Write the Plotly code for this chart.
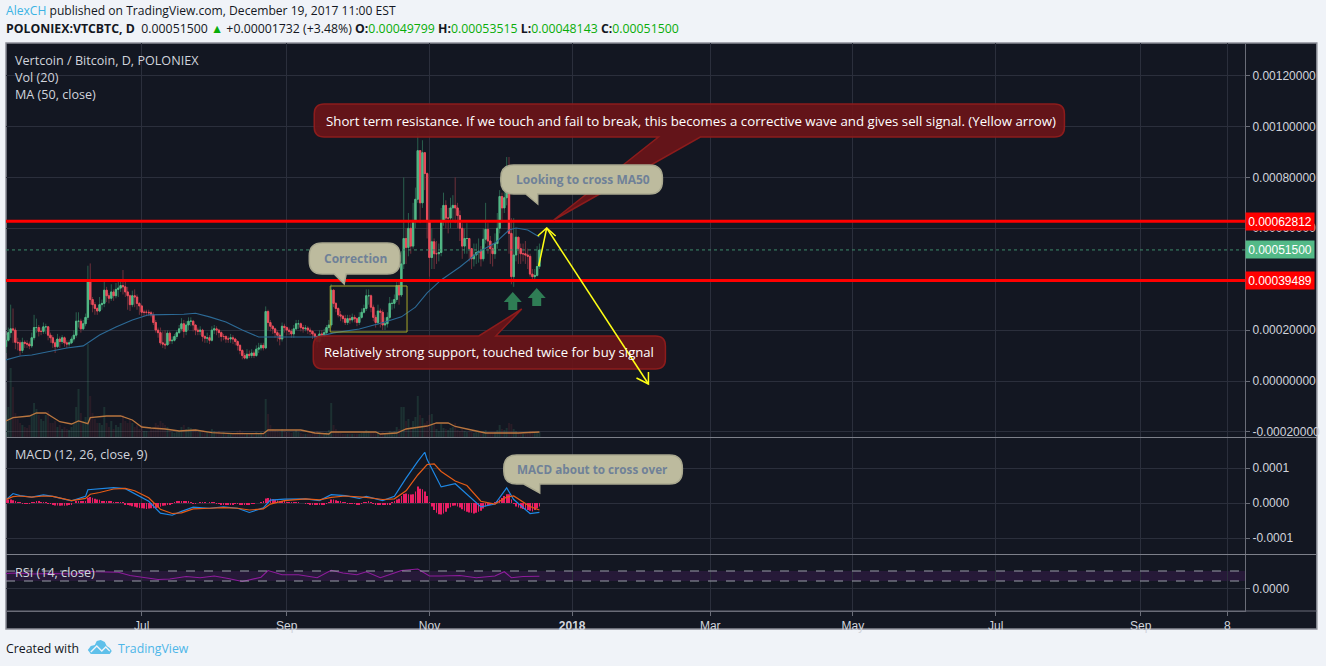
import pandas as pd
import plotly.graph_objects as go

W_L, W_R, P_T, P_B = 6, 1248, 43, 611

START = "2017-05-04"
UNIT = 1e-5
# Daily candles, price in units of 0.00001 BTC
closes = [
16,19,20.5,20,15.2,15,12,15.2,14.8,14.5,
13.8,17,21,21,19.5,19.5,21.3,21.3,18,17,
15,13.5,16.5,15.5,17,15,14.5,15,16.5,18,
23.5,23.5,20.5,22.5,25,39.8,32,30,28.5,27.5,
30,30.5,35.7,33.5,32.5,35,33.5,36,36.5,37.5,
37,35,33.5,30,33.5,33,30.5,29.5,27,27,
27,26.8,26,23,20,19,15,14.5,14.2,18.8,
15.8,16,17.5,19,20.5,22.5,19.5,22,23.5,23.5,
22,20,19.5,20,17.5,16.8,17,16,20,20.5,
20,19,17.5,17.5,16.5,16.5,17,16.5,15.5,14,
12,10,9,10.5,10,11,10,12.5,13,14,
13,27.3,23,21.5,20.5,19,18,16.5,21.5,21,
20,19.5,18.5,20.5,22.5,22.5,21,20.5,20.8,20,
19.5,18.5,17.5,15.5,18.5,17.5,19,21,22,35.7,
30.5,28.5,26,25.5,24.5,23,24.5,24,25,24.5,
23,25,27,28.5,33.5,33.5,29,25,23,27.5,
27,22,22.5,25,30.5,30.5,32,37.5,33.8,46,
56,52.5,60,53,63,71.4,90.5,70,89.7,81.5,
63,48.5,54.7,50,50,50.5,63,69,64,64,
68,69,68,65,60,53,56,56,52,48,
49.5,50.5,51,48,55.7,59.6,55,52,50,54,
60,72.5,68,72,81,58,41,49.5,56.5,52,
50,50,49.5,49,42,41,41.5,45,51.5]
first_open = 13.5
# The market trades round the clock: each candle opens at the previous close
opens = [first_open] + closes[:-1]
highs = [
18,21,30,28.5,21,17,16,17,16,16,
15.5,19,26,24.5,22,21,23,22.5,21,19,
18,16,18.5,17.5,18,17.5,16,16,17.5,20,
27,27,24.5,24,26.5,45.3,46.2,33,31,29,
33,32,39.5,37,34.5,38,36,38.5,39,39.5,
43.6,39.5,37,34,35.5,36,34,31,30,28,
28,28,27.5,27,24,21,21,19.5,20,20,
19.5,17.5,18.5,20,22,24.7,24,23.5,25,25,
24,22,21,21.5,20.5,18,19,18,21.5,22,
21.5,20.5,19.5,18.5,18,17.5,18.5,18,17,16,
14.5,12.5,11,12.5,12,12.5,12,14,15,15,
15,29.3,28,24,22,21,20,19,23,22.5,
21.5,21,20.5,22,24,24,23,22,22,21.5,
21,20,19,18,20,20,20.5,22,24,38,
36,31,29,27.5,26,26,26,26,26.5,26,
25,27,28.5,30,36,36,34,30,26,30,
28.5,28,25,27,33,32,34,40,39,51,
80,60,66,62,70,76,97.5,85,94.6,90,
82,62,60,56,55,54,68,74,71,68,
72,73,80,70,67,62,60,62,56,52,
54,54,56,53,60,70,62,57,54,58,
66,75,74,76,88,88,64,64,60,56,
54,54,55,52,50,44,44,53,54]
lows = [
11,15.5,17,15,12.5,12,10,11,13,13,
12.5,13,16,19,17.5,18,18.5,18.5,16,15,
13,11,13,13,14.5,13.5,13,13.5,14.5,15.5,
17,21,19,20,21.5,24,30,27,26,26,
27,28,29,31,30.5,31.5,31.5,32.5,33,35,
34,33,28,27.5,29,29,28,26,25.5,25.5,
25.5,25.5,25,22,19,17,14,13,12.5,14,
14.5,14.5,15.5,16.5,18.5,19.5,17,18,20,21.5,
19.5,18,18,18,15.5,15,15,14.5,15.5,18.5,
18,17,15.5,16,15,15,15,14.5,14,12,
10.5,8.5,8.5,8.5,9,9,9,9.5,11,12,
12,12.5,20,19.5,18.5,17,15.5,14,15.5,19,
18,18,17,17,20,20.5,19.5,19,19.5,18.5,
18,16.5,15,13,15,15.5,16.5,18,20,21,
29,27,25,23.5,23,22,22,22.5,23,23,
21.5,22,24.5,26.5,27.5,30,27,23.5,21,22,
21,20,20,21,24,28,28.5,31,30,33,
44,46,49,50,52,60,70,62,68,75,
56,41,44,44,46,47,49,61,60,58,
60,63,62,60,55,48,50,50,47,44,
45,46,46.5,45,47,54,50,46,45,48,
52,58,62,66,69,50,38,37,47,46,
46,47,46,44,41,39.5,39.5,41,44]
volumes = [
22,30,69,50,24,18,14,12,10,9,
12,22,34,28,22,18,16,22,26,14,
14,16,10,12,8,10,8,7,10,14,
30,48,24,16,20,93,41,24,18,14,
14,12,30,14,10,16,8,12,10,14,
22,16,14,18,14,10,12,8,12,6,
6,5,8,10,14,12,16,14,12,10,
6,5,4,5,6,10,12,8,10,9,
8,7,5,5,7,6,5,4,8,6,
5,6,4,5,4,3,3,4,4,6,
7,5,4,4,3,4,3,5,4,5,
4,38,23,12,8,7,6,5,8,6,
5,5,4,5,7,5,4,3,3,3,
3,4,5,6,5,4,4,5,7,34,
12,8,5,4,3,3,3,3,3,3,
3,3,4,5,7,6,5,5,4,5,
4,5,3,4,6,5,6,10,8,30,
30,16,18,10,16,20,41,22,19,14,
16,22,23,14,8,6,13,9,8,7,
9,10,14,7,6,8,6,5,5,5,
4,5,5,4,6,7,5,4,4,5,
7,12,8,7,9,14,13,8,6,4,
4,3,3,3,6,6,4,5,5]
macd_hist = [
.1,.1,.1,.08,.05,.02,.01,-.02,-.02,-.02,
-.01,.01,.02,.03,.03,.02,.02,.01,-.01,-.02,
-.05,-.07,-.07,-.08,-.07,-.08,-.07,-.05,-.03,0,
.03,.04,.05,.06,.06,.15,.17,.15,.12,.1,
.09,.06,.06,.05,.04,.03,.02,.02,.02,.01,
.01,-.03,-.05,-.07,-.09,-.11,-.13,-.14,-.15,-.16,
-.17,-.16,-.15,-.15,-.14,-.13,-.11,-.08,-.07,-.06,
-.04,-.02,.01,.03,.04,.05,.05,.04,.03,.02,
-.01,-.01,0,.01,.01,.01,0,.01,.01,.01,
-.01,-.02,-.03,-.03,-.04,-.05,-.03,-.03,-.02,-.02,
-.03,-.04,-.04,-.04,-.03,-.02,-.01,0,0,.01,
.06,.13,.14,.13,.11,.09,.07,.05,.04,.03,
.02,.02,.01,.01,.01,.01,0,0,-.01,-.01,
-.03,-.04,-.05,-.05,-.05,-.05,-.03,-.01,.02,.1,
.1,.08,.06,.03,.02,.01,-.01,-.02,-.02,-.02,
-.03,-.03,-.01,.01,.02,.03,.01,-.02,-.03,-.03,
-.05,-.06,-.06,-.05,-.03,.02,.05,.1,.12,.2,
.26,.27,.25,.24,.25,.33,.47,.41,.39,.33,
.2,.02,-.1,-.2,-.28,-.32,-.33,-.3,-.25,-.15,
-.12,-.08,-.07,-.1,-.13,-.18,-.22,-.25,-.27,-.28,
-.3,-.28,-.25,-.22,-.16,-.1,-.06,-.03,-.01,.01,
.03,.1,.14,.2,.25,.25,.1,-.02,-.1,-.13,
-.15,-.17,-.18,-.2,-.22,-.24,-.2,-.15,-.1]

# Indicator lines read at sampled day numbers
ma_days = [0,6,11,19,26,33,40,47,54,61,69,76,81,87,94,101,108,116,125,133,140,151,162,169,175,180,186,194,202,209,215,218,223,228]
ma_vals = [8.3,9.8,10.2,11.8,13,13.8,18.1,21.2,24,26,26,26.2,26.6,25.2,23.2,20,17.3,17.3,17.3,17.3,18.9,20.4,23.2,25.2,29,34.6,39.7,44.8,50.7,54.2,59.3,60.1,59.3,56.6]
volma_days = [0,3,10,13,17,23,28,31,35,36,43,49,54,58,62,68,74,81,88,97,110,112,126,132,138,139,158,160,167,171,180,184,189,192,199,205,219,228]
volma_vals = [16,19.3,21,24,24,15.3,13,16,13.3,19.3,21,21,17,10,9,8,6,7,4.3,3.3,3.3,7,7,4,3,5,5,3,4,8,11,14,14,10.5,7,4,4,5]
macd_days = [0,3,6,11,16,20,28,34,35,40,46,51,55,61,66,71,75,80,87,93,99,104,110,113,119,128,134,139,145,151,154,161,166,171,176,179,180,186,192,197,203,209,214,217,224,228]
macd_vals = [.095,.27,.21,.17,.23,.19,.06,.19,.38,.41,.44,.41,.27,.05,-.29,-.35,-.24,-.12,-.15,-.11,-.15,-.27,-.14,.08,.11,.12,.07,.24,.21,.13,.19,.07,.19,.71,1.19,1.45,1.24,.46,.55,.24,-.11,-.03,.43,.1,-.3,-.27]
signal_days = [0,3,6,11,16,20,28,34,36,40,46,51,55,61,66,71,75,80,87,93,99,104,110,113,119,128,134,139,145,151,154,161,166,171,176,180,183,186,192,197,203,209,214,217,224,228]
signal_vals = [.1,.18,.2,.17,.2,.19,.07,.13,.25,.3,.4,.42,.35,.15,-.18,-.3,-.28,-.17,-.15,-.13,-.15,-.2,-.17,-.03,.07,.12,.09,.16,.2,.17,.16,.1,.12,.35,.8,1.1,1.12,.9,.63,.5,.05,-.03,.17,.2,-.1,-.2]
rsi_days = [0,5,11,18,30,35,38,48,53,59,65,70,77,83,89,95,101,109,112,118,125,133,139,144,150,154,160,166,169,176,181,186,194,201,209,213,216,221,228]
rsi_vals = [60,62,58,60,58,70,67,65,52,45,36,38,48,43,50,40,28,45,72,55,55,43,73,62,55,67,43,62,72,78,50,50,52,43,50,67,43,48,49]

support = 0.00039489
resistance = 0.00062812
last_price = 0.00051500
price_ticks = [-0.0002,0,0.0002,0.0004,0.0006,0.0008,0.0010,0.0012]
price_tick_text = ["-0.00020000","0.00000000","0.00020000","","0.00060000","0.00080000","0.00100000","0.00120000"]
time_tick_dates = ["2017-07-01","2017-09-01","2017-11-01","2018-01-01","2018-03-01","2018-05-01","2018-07-01","2018-09-01","2018-10-08"]
time_tick_text = ["Jul","Sep","Nov","<b>2018</b>","Mar","May","Jul","Sep","8"]
macd_ticks = [-1,0,1]

# ---------- derived
dates = pd.date_range(START, periods=len(closes), freq="D")
o = [v*UNIT for v in opens]; c = [v*UNIT for v in closes]
h = [v*UNIT for v in highs]; l = [v*UNIT for v in lows]
body_hi = [max(a,b) for a,b in zip(o,c)]
body_lo = [min(a,b) for a,b in zip(o,c)]
def at(days): return [dates[0]+pd.Timedelta(days=d) for d in days]

UP, DOWN = "#53b987", "#eb4d5c"
UP_W, DOWN_W = "#2a5f4d", "#6f303b"
GRID = "#2b2f3c"; TXT = "#d1d4dc"; BG = "#131722"; PAGE = "#f0f3f8"

def X(x): return (x-W_L)/(W_R-W_L)
def Y(y): return (P_B-y)/(P_B-P_T)

fig = go.Figure()
day_ms = 86400000
vol_up = [v if cc>=oo else None for v,cc,oo in zip(volumes,closes,opens)]
vol_dn = [v if cc<oo else None for v,cc,oo in zip(volumes,closes,opens)]
fig.add_trace(go.Bar(x=dates,y=vol_up,marker=dict(color="rgba(83,185,135,.16)",line_width=0),width=day_ms*.85,xaxis="x",yaxis="y"))
fig.add_trace(go.Bar(x=dates,y=vol_dn,marker=dict(color="rgba(235,77,92,.1)",line_width=0),width=day_ms*.85,xaxis="x",yaxis="y"))
fig.add_trace(go.Scatter(x=at(volma_days),y=volma_vals,mode="lines",line=dict(color="#b9763f",width=1.3),xaxis="x",yaxis="y"))
# wicks
fig.add_trace(go.Candlestick(x=dates,open=o,high=h,low=l,close=c,xaxis="x",yaxis="y2",whiskerwidth=0,
    increasing=dict(line=dict(color=UP_W,width=1),fillcolor=UP_W),
    decreasing=dict(line=dict(color=DOWN_W,width=1),fillcolor=DOWN_W)))
# bodies
fig.add_trace(go.Candlestick(x=dates,open=o,high=body_hi,low=body_lo,close=c,xaxis="x",yaxis="y2",whiskerwidth=0,
    increasing=dict(line=dict(color=UP,width=1),fillcolor=UP),
    decreasing=dict(line=dict(color=DOWN,width=1),fillcolor=DOWN)))
fig.add_trace(go.Scatter(x=at(ma_days),y=[v*UNIT for v in ma_vals],mode="lines",line=dict(color="#2c6a96",width=1.1),xaxis="x",yaxis="y2"))
# MACD
fig.add_trace(go.Bar(x=dates,y=[v*1e-4 for v in macd_hist],marker=dict(color="#e91e63",line_width=0),width=day_ms*.3,xaxis="x2",yaxis="y3"))
fig.add_trace(go.Scatter(x=at(macd_days),y=[v*1e-4 for v in macd_vals],mode="lines",line=dict(color="#1e88e5",width=1.2),xaxis="x2",yaxis="y3"))
fig.add_trace(go.Scatter(x=at(signal_days),y=[v*1e-4 for v in signal_vals],mode="lines",line=dict(color="#e65c16",width=1.2),xaxis="x2",yaxis="y3"))
# RSI
fig.add_trace(go.Scatter(x=at(rsi_days),y=rsi_vals,mode="lines",line=dict(color="#8e1c9c",width=1.1),xaxis="x3",yaxis="y4"))

x_range = ["2017-05-04","2018-10-15 14:00"]
xcommon = dict(type="date",range=x_range,showgrid=True,gridcolor=GRID,gridwidth=1,tickmode="array",
               tickvals=time_tick_dates,ticktext=time_tick_text,zeroline=False,rangeslider=dict(visible=False))
ycommon = dict(side="right",showgrid=True,gridcolor=GRID,zeroline=False,ticks="outside",ticklen=4,tickcolor="#6a6d78",
               showline=True,linecolor="#6a6d78",tickfont=dict(family="Liberation Sans",size=12,color=TXT))
main_dom = [Y(437),1]
macd_dom = [Y(554),Y(438)]
rsi_dom = [0,Y(555)]
shapes=[]; anns=[]

def txt(x,y,s,color=TXT,size=12.6,fam="Open Sans",xa="left",**kw):
    dx = -2 if xa=="left" else 0
    anns.append(dict(xref="paper",yref="paper",x=X(x+dx),y=Y(y),text=s,showarrow=False,xanchor=xa,yanchor="middle",
                     font=dict(family=fam,size=size,color=color),align="left",**kw))
def path(pts,fill,line=None,width=0,close=True,layer="above"):
    d="M"+" L".join(f"{X(a):.5f},{Y(b):.5f}" for a,b in pts)+(" Z" if close else "")
    shapes.append(dict(type="path",xref="paper",yref="paper",path=d,fillcolor=fill,line=dict(color=line or fill,width=width),layer=layer))
def callout(x0,y0,x1,y1,tail,fill,line,r=10,top=False):
    (a,b,tip)=tail
    P=lambda px,py:f"{X(px):.5f},{Y(py):.5f}"
    top_edge = f"L{P(a,y0)} L{P(*tip)} L{P(b,y0)} " if top else ""
    bot_edge = "" if top else f"L{P(b,y1)} L{P(*tip)} L{P(a,y1)} "
    d=(f"M{P(x0+r,y0)} {top_edge}L{P(x1-r,y0)} Q{P(x1,y0)} {P(x1,y0+r)} L{P(x1,y1-r)} Q{P(x1,y1)} {P(x1-r,y1)} "
       f"{bot_edge}L{P(x0+r,y1)} Q{P(x0,y1)} {P(x0,y1-r)} L{P(x0,y0+r)} Q{P(x0,y0)} {P(x0+r,y0)} Z")
    shapes.append(dict(type="path",xref="paper",yref="paper",path=d,fillcolor=fill,line=dict(color=line,width=1.5)))

# frame & separators
shapes.append(dict(type="rect",xref="paper",yref="paper",x0=0,x1=X(1320),y0=Y(629),y1=1,fillcolor=BG,line=dict(color="#8a8d96",width=1.5),layer="below"))
for yy in (437.5,554.5):
    shapes.append(dict(type="line",xref="paper",yref="paper",x0=0,x1=X(1320),y0=Y(yy),y1=Y(yy),line=dict(color="#7d808a",width=1)))
shapes.append(dict(type="line",xref="paper",yref="paper",x0=0,x1=X(1320),y0=0,y1=0,line=dict(color="#6a6d78",width=1)))
# price lines
for val in (resistance,support):
    shapes.append(dict(type="line",xref="paper",yref="y2",x0=0,x1=1,y0=val,y1=val,line=dict(color="#ff0000",width=3)))
shapes.append(dict(type="line",xref="paper",yref="y2",x0=0,x1=1,y0=last_price,y1=last_price,line=dict(color="#3d8b6a",width=1,dash="dot")))
# RSI band
shapes.append(dict(type="rect",xref="paper",yref="y4",x0=0,x1=1,y0=30,y1=70,fillcolor="rgba(128,40,160,.18)",line_width=0,layer="below"))
for val in (30,70):
    shapes.append(dict(type="line",xref="paper",yref="y4",x0=0,x1=1,y0=val,y1=val,line=dict(color="#9a9da8",width=1,dash="dash")))
# correction box
shapes.append(dict(type="rect",xref="paper",yref="paper",x0=X(331),x1=X(408),y0=Y(332),y1=Y(286),line=dict(color="#a8a82a",width=1),fillcolor="rgba(0,0,0,0)"))
# callouts
RED_F,RED_L="rgba(105,20,25,.93)","#8c1c1c"
GRY_F,GRY_L="#bdbb9e","#a9a88f"
callout(315,104,1067,137,(660,702,(555,220)),RED_F,RED_L)
callout(314,336,667,369,(480,497,(523,309)),RED_F,RED_L,top=True)
callout(310,243,401,274,(335,347,(345,284)),GRY_F,GRY_L,r=13)
callout(502,165,664,194,(527,539,(539,204)),GRY_F,GRY_L,r=13)
callout(505,455,684,484,(525,541,(541,493)),GRY_F,GRY_L,r=13)
# green arrows
def up_arrow(cx,top,col="#2f7d55"):
    path([(cx,top),(cx+9,top+10),(cx+4.5,top+10),(cx+4.5,top+18),(cx-4.5,top+18),(cx-4.5,top+10),(cx-9,top+10)],col)
up_arrow(514,292); up_arrow(538,288)
# yellow arrows
YEL="#ffff14"
path([(540,266),(548,228)],YEL,YEL,1.5,False)
path([(539,236),(548,228),(557,236)],"rgba(0,0,0,0)",YEL,1.5,False)
path([(548,228),(650,384)],YEL,YEL,1.5,False)
path([(650,372),(650,384),(638,378)],"rgba(0,0,0,0)",YEL,1.5,False)
# logo
path([(88,650),(91,646),(95,645),(97,641),(101,640),(105,642),(107,646),(110,648),(112,651),(110,654),(91,654)],"#5fc0ea")
path([(91,652),(97,646),(102,651),(106,647),(110,651)],"rgba(0,0,0,0)",PAGE,1.4,False)

CALL="Open Sans"
txt(693,121,"Short term resistance. If we touch and fail to break, this becomes a corrective wave and gives sell signal. (Yellow arrow)","#ffffff",13.25,CALL,"center")
txt(490,352,"Relatively strong support, touched twice for buy signal","#ffffff",13.1,CALL,"center")
txt(356,258,"<b>Correction</b>","#6f8198",12,CALL,"center")
txt(584,180,"<b>Looking to cross MA50</b>","#6f8198",12,CALL,"center")
txt(594,469,"<b>MACD about to cross over</b>","#6f8198",11.7,CALL,"center")

txt(15,60,"Vertcoin / Bitcoin, D, POLONIEX")
txt(15,77,"Vol (20)")
txt(15,94,"MA (50, close)")
txt(15,455,"MACD (12, 26, close, 9)")
txt(15,572,"RSI (14, close)")
G='<span style="color:#09ad09">%s</span>'
txt(6,10,'<span style="color:#3bb3e4">AlexCH</span> published on TradingView.com, December 19, 2017 11:00 EST',"#131722",12.1)
txt(6,29,'<b>POLONIEX:VTCBTC, D</b>  0.00051500 '+G%"▲"+' +0.00001732 (+3.48%) <b>O:</b>'+G%"0.00049799"+' <b>H:</b>'+G%"0.00053515"+' <b>L:</b>'+G%"0.00048143"+' <b>C:</b>'+G%"0.00051500","#131722",12.3)
txt(6,648,"Created with","#131722",12.3)
txt(118,648,"TradingView","#4db6e8",12.3)

def tag(val,axis,color,s):
    anns.append(dict(xref="paper",yref=axis,x=X(1248.5),y=val,text=s,showarrow=False,xanchor="left",yanchor="middle",
        width=68,height=17,bgcolor=color,font=dict(family="Liberation Sans",size=12,color="#ffffff"),align="center",borderpad=0))
tag(resistance,"y2","#ff0000",f"{resistance:.8f}")
tag(last_price,"y2",UP,f"{last_price:.8f}")
tag(support,"y2","#ff0000",f"{support:.8f}")

fig.update_layout(
    width=1326,height=666,autosize=False,showlegend=False,hovermode=False,
    margin=dict(l=W_L,r=1326-W_R,t=P_T,b=666-P_B),
    paper_bgcolor=PAGE,plot_bgcolor=BG,barmode="overlay",boxmode="overlay",boxgap=.2,
    xaxis=dict(**xcommon,anchor="y",showticklabels=False,ticks=""),
    xaxis2=dict(**xcommon,anchor="y3",showticklabels=False,ticks="",matches="x"),
    xaxis3=dict(**xcommon,anchor="y4",matches="x",ticks="outside",ticklen=4,tickcolor="#6a6d78",showline=True,linecolor="#6a6d78",
                tickfont=dict(family="Liberation Sans",size=12,color=TXT)),
    yaxis=dict(domain=main_dom,range=[0,394],visible=False,anchor="x"),
    yaxis2=dict(**ycommon,domain=main_dom,overlaying="y",anchor="x",range=[-22e-5,132.8e-5],
                tickmode="array",tickvals=price_ticks,ticktext=price_tick_text),
    yaxis3=dict(**ycommon,domain=macd_dom,anchor="x2",range=[-1.457e-4,1.857e-4],
                tickmode="array",tickvals=[t*1e-4 for t in macd_ticks],ticktext=[f"{t*1e-4:.4f}" for t in macd_ticks]),
    yaxis4=dict(**ycommon,domain=rsi_dom,anchor="x3",range=[-90,134],tickmode="array",tickvals=[0],ticktext=["0.0000"]),
    shapes=shapes,annotations=anns)
fig.write_html("out.html",config=dict(displayModeBar=False),
               post_script="document.body.style.margin='0';document.documentElement.style.overflow='hidden';")
